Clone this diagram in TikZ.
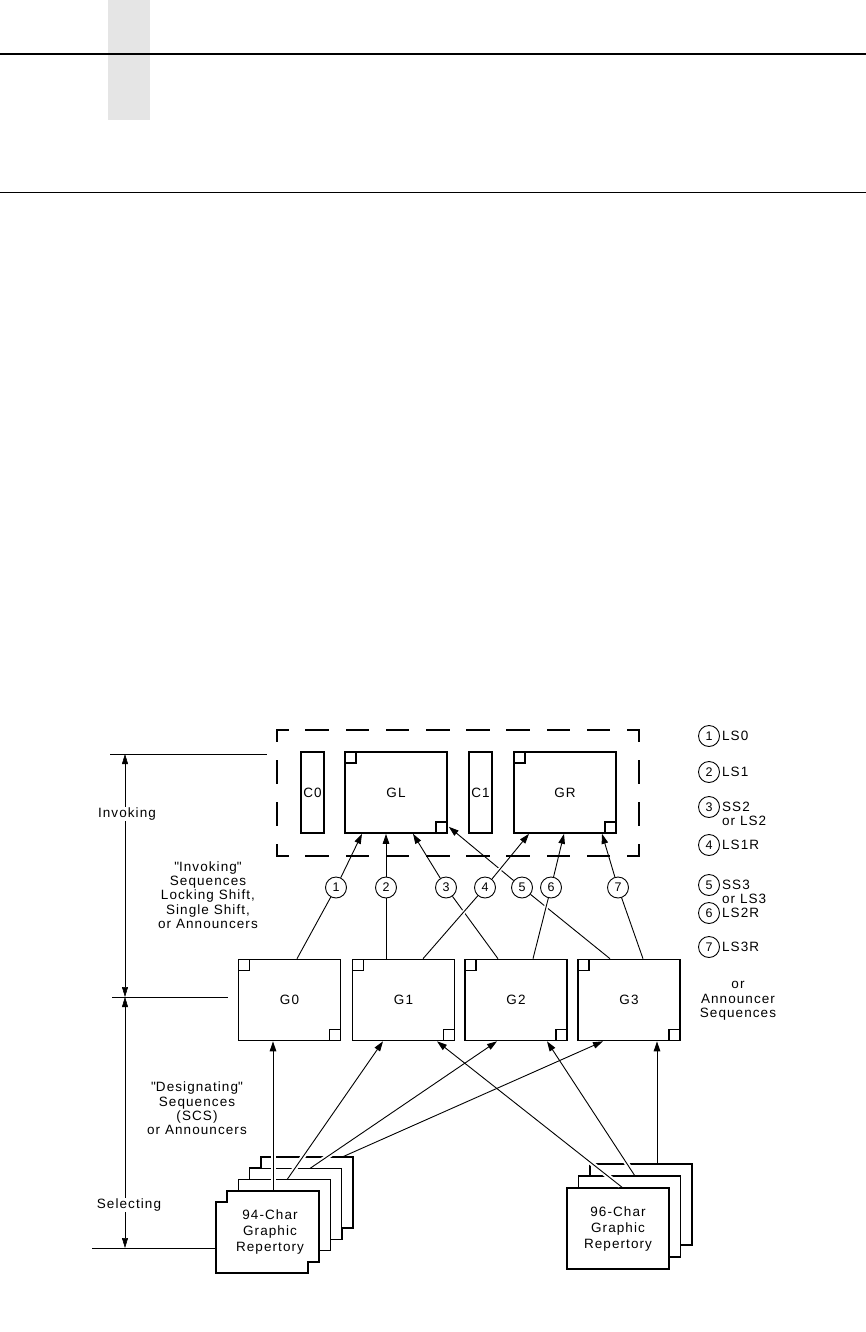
\documentclass[tikz,border=0pt]{standalone}
\usepackage{fontspec}
\setmainfont{Liberation Sans}[LetterSpace=8]
\usetikzlibrary{arrows.meta, calc, positioning}

\begin{document}
\begin{tikzpicture}[
  x=1pt, y=-1pt,
  every node/.style={font=\fontsize{13.5}{14.4}\selectfont},
  gbox/.style={draw, line width=1.6pt, minimum width=102pt, minimum height=81pt, inner sep=0pt},
  cbox/.style={gbox, minimum width=23pt},
  num/.style={draw, circle, line width=0.9pt, minimum size=21pt, inner sep=0pt,
    font=\fontsize{12.5}{13}\selectfont},
  conn/.style={line width=0.9pt},
  tip/.style={conn, -{Triangle[length=10pt, width=6.5pt]}},
  over/.style={preaction={draw=white, line width=4pt, -, shorten <=3pt, shorten >=3pt}},
  overtip/.style={preaction={draw=white, line width=4pt, -, shorten <=3pt, shorten >=12pt}},
  halo/.style={draw=white, line width=5pt, shorten <=4pt},
  card/.style={fill=white, draw, line width=1.3pt},
  cardtext/.style={align=center, font=\fontsize{13.5}{16}\selectfont},
  dimline/.style={line width=0.5pt},
  dimarrow/.style={dimline, {Triangle[length=10pt, width=6pt]}-{Triangle[length=10pt, width=6pt]}},
  dashbox/.style={line width=2.6pt, line cap=rect, dash phase=10.5pt},
  legend/.style={inner sep=0pt, align=left}
]
\useasboundingbox (0,0) rectangle (866,1332);

%% ── page header ──────────────────────────────────────────────────────────────
\fill[black!10] (108,0) rectangle (150,120);
\draw[line width=2pt] (0,54) -- (866,54);
\draw[line width=1pt] (0,193) -- (866,193);

%% ── code table: C0 GL C1 GR ──────────────────────────────────────────────────
\node[cbox] (C0) at (312.5,792.5) {C0};
\node[gbox] (GL) at (396,792.5) {GL};
\node[cbox] (C1) at (480.5,792.5) {C1};
\node[gbox] (GR) at (565,792.5) {GR};

%% ── intermediate sets G0..G3 ─────────────────────────────────────────────────
\foreach \g [count=\i from 0] in {289.5,403.5,516,629}
  \node[gbox] (G\i) at (\g,1000) {G\i};

%% corner marks
\foreach \b in {GL,GR,G0,G1,G2,G3} {
  \draw[line width=1.2pt] ([shift={(0.8,0.8)}]\b.north west) rectangle ++(11,11);
  \draw[line width=1.2pt] ([shift={(-0.8,-0.8)}]\b.south east) rectangle ++(-11,-11);
}

%% ── invoking sequences ───────────────────────────────────────────────────────
\foreach \n/\x in {1/336, 2/386, 3/446, 4/485, 5/522, 6/551, 7/618}
  \node[num] (c\n) at (\x,887.5) {\n};

\draw[tip] (c1) -- ([xshift=-34pt]GL.south);
\draw[tip] (c2) -- ([xshift=-10pt]GL.south);
\draw[tip] (c3) -- ([xshift=17pt]GL.south);
\draw[tip] (c5) -- ([xshift=1pt, yshift=7pt]GL.south east);
\draw[tip] (c7) -- ([xshift=37pt]GR.south);
\draw[tip, overtip] (c4) -- ([xshift=-36pt]GR.south);
\draw[tip, overtip] (c6) -- ([xshift=-1pt]GR.south);

\draw[conn] ([xshift=7.5pt]G0.north) -- (c1);
\draw[conn] ([xshift=-17.5pt]G1.north) -- (c2);
\draw[conn] ([xshift=-18pt]G2.north) -- (c3);
\draw[conn] ([xshift=-19pt]G3.north) -- (c5);
\draw[conn] ([xshift=14pt]G3.north) -- (c7);
\draw[conn, over] ([xshift=19.5pt]G1.north) -- (c4);
\draw[conn, over] ([xshift=17pt]G2.north) -- (c6);

%% ── graphic repertories ──────────────────────────────────────────────────────
\foreach \k in {3,2,1,0}
  \draw[card] (216+11.3*\k, 1202-11.3*\k) -- ++(11,0) -- ++(0,-11) -- ++(92,0)
    -- ++(0,71) -- ++(-11,0) -- ++(0,11) -- ++(-92,0) -- cycle;
\foreach \k in {2,1,0}
  \draw[card] (567+11.5*\k, 1188-12*\k) rectangle ++(102,81);

\node[cardtext] (rep94) at (270,1232) {94-Char\\Graphic\\Repertory};
\node[cardtext] (rep96) at (618,1229) {96-Char\\Graphic\\Repertory};

\coordinate (r94a) at (273,1191);
\coordinate (r94b) at (287,1179.7);
\coordinate (r94c) at (310,1168.4);
\coordinate (r94d) at (342,1157.1);
\coordinate (r96a) at (623,1188);
\coordinate (r96b) at (635,1176);
\coordinate (r96c) at (657,1164);

%% designating sequences
\foreach \s/\g/\dx in {r94a/G0/-16.5, r94b/G1/-20.5, r94c/G2/-19, r96a/G1/33.5, r96b/G2/31}
  \draw[halo] (\s) -- ($(\s)!0.3!([xshift=\dx pt]\g.south)$);
\foreach \s/\g/\dx in {r94a/G0/-16.5, r94b/G1/-20.5, r94c/G2/-19, r94d/G3/-26,
                       r96a/G1/33.5, r96b/G2/31, r96c/G3/28}
  \draw[tip] (\s) -- ([xshift=\dx pt]\g.south);

%% ── dimension lines ──────────────────────────────────────────────────────────
\coordinate (dimtop) at (125,754);
\coordinate (dimmid) at (125,997);
\coordinate (dimbot) at (125,1248);
\draw[dimline] (110,754) -- (267,754);
\draw[dimline] (112,997) -- (228,997);
\draw[dimline] (92,1248) -- (216,1248);
\draw[dimarrow] (dimtop) -- (dimmid);
\draw[dimarrow] (dimmid) -- (dimbot);
\node[fill=white, inner sep=1pt] (invoking) at (127,814) {Invoking};
\node[fill=white, inner sep=1pt] (selecting) at (129,1205) {Selecting};

\node[align=center] (invseq) at (208,895)
  {\textquotedbl Invoking\textquotedbl\\Sequences\\Locking Shift,\\Single Shift,\\or Announcers};
\node[align=center] (desseq) at (197,1108.5)
  {\textquotedbl Designating\textquotedbl\\Sequences\\(SCS)\\or Announcers};

%% ── legend ───────────────────────────────────────────────────────────────────
\foreach \n/\y in {1/736, 2/772, 3/807, 4/845, 5/885, 6/913, 7/947}
  \node[num] (l\n) at (709,\y) {\n};
\node[legend, right=2pt of l1] (t1) {LS0};
\node[legend, right=2pt of l2] (t2) {LS1};
\node[legend, right=2pt of l3, yshift=-7pt] (t3) {SS2\\or LS2};
\node[legend, right=2pt of l4] (t4) {LS1R};
\node[legend, right=2pt of l5, yshift=-7pt] (t5) {SS3\\or LS3};
\node[legend, right=2pt of l6] (t6) {LS2R};
\node[legend, right=2pt of l7] (t7) {LS3R};
\node[align=center] (announce) at (738,1001) {or\\Announcer\\Sequences};

%% ── dashed frame round the code table ────────────────────────────────────────
\draw[dashbox, dash pattern=on 21pt off 19.2pt] (277,730) -- (639,730);
\draw[dashbox, dash pattern=on 21pt off 19.2pt] (277,856) -- (639,856);
\draw[dashbox, dash pattern=on 21pt off 21pt] (277,730) -- (277,856);
\draw[dashbox, dash pattern=on 21pt off 21pt] (639,730) -- (639,856);

\end{tikzpicture}
\end{document}
